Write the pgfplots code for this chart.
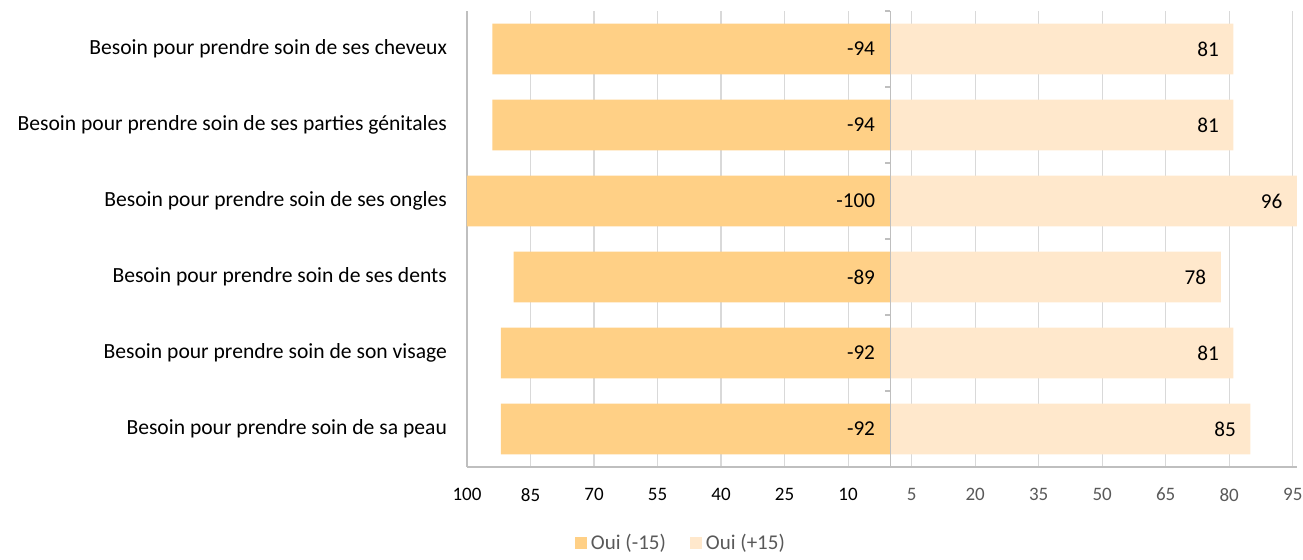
\documentclass[border=0pt]{standalone}
\usepackage{fontspec}
\setmainfont{Carlito}
\usepackage{pgfplots}
\pgfplotsset{compat=1.18}
\definecolor{barL}{HTML}{FFD086}
\definecolor{barR}{HTML}{FFE8CC}
\definecolor{gridc}{HTML}{D9D9D9}
\definecolor{axc}{HTML}{BFBFBF}
\definecolor{txtg}{HTML}{595959}
\begin{document}
\begin{tikzpicture}
\path[use as bounding box] (-233.5pt,-46.5pt) rectangle (418pt,233.5pt);
\begin{axis}[
  at={(0,0)}, anchor=south west,
  scale only axis, width=415pt, height=228pt,
  xmin=-100, xmax=96, ymin=-0.5, ymax=5.5,
  xbar, bar shift=0pt, bar width=0.67,
  font=\fontsize{9.5pt}{11pt}\selectfont,
  /pgf/number format/assume math mode=true,
  xtick={-100,-85,-70,-55,-40,-25,-10,5,20,35,50,65,80,95},
  xticklabels={100,85,70,55,40,25,10,{\color{txtg}5},{\color{txtg}20},{\color{txtg}35},{\color{txtg}50},{\color{txtg}65},{\color{txtg}80},{\color{txtg}95}},
  ytick={0,1,2,3,4,5},
  yticklabels={Besoin pour prendre soin de sa peau,Besoin pour prendre soin de son visage,Besoin pour prendre soin de ses dents,Besoin pour prendre soin de ses ongles,Besoin pour prendre soin de ses parties génitales,Besoin pour prendre soin de ses cheveux},
  major tick length=0pt,
  xmajorgrids, grid style={gridc, line width=0.6pt},
  axis x line*=bottom, axis y line*=left,
  axis line style={axc, line width=0.6pt, -},
  xticklabel style={yshift=-7pt},
  yticklabel style={xshift=-6.5pt, anchor=east, font=\fontsize{10.8pt}{12pt}\selectfont},
  legend columns=2,
  legend style={at={(0.259,-0.167)}, anchor=center, draw=none, fill=none,
    text=txtg, font=\fontsize{10.5pt}{12pt}\selectfont,
    /tikz/every even column/.append style={column sep=10pt}},
  legend image code/.code={\fill[#1] (0pt,-3pt) rectangle (6pt,3pt);},
  clip=false,
]
\addplot[fill=barL, draw=none] coordinates {(-92,0) (-92,1) (-89,2) (-100,3) (-94,4) (-94,5)};
\addlegendentry{Oui (-15)}
\addplot[fill=barR, draw=none,
  nodes near coords, nodes near coords align={horizontal},
  every node near coord/.append style={anchor=east, xshift=-3.8pt, text=black, font=\fontsize{10.6pt}{12pt}\selectfont}]
  coordinates {(85,0) (81,1) (78,2) (96,3) (81,4) (81,5)};
\addlegendentry{Oui (+15)}
\addplot[draw=none, fill=none, forget plot,
  point meta=explicit symbolic, nodes near coords,
  every node near coord/.append style={anchor=east, xshift=-4.2pt, text=black, font=\fontsize{10.6pt}{12pt}\selectfont}]
  coordinates {(0,0) [-92] (0,1) [-92] (0,2) [-89] (0,3) [-100] (0,4) [-94] (0,5) [-94]};
\draw[axc, line width=0.6pt] (axis cs:0,-0.5) -- (axis cs:0,5.5);
\pgfplotsinvokeforeach{-0.5,0.5,1.5,2.5,3.5,4.5,5.5}{
  \draw[axc, line width=0.6pt] (axis cs:0,#1) -- (axis cs:-1.2,#1);
}
\end{axis}
\end{tikzpicture}
\end{document}
